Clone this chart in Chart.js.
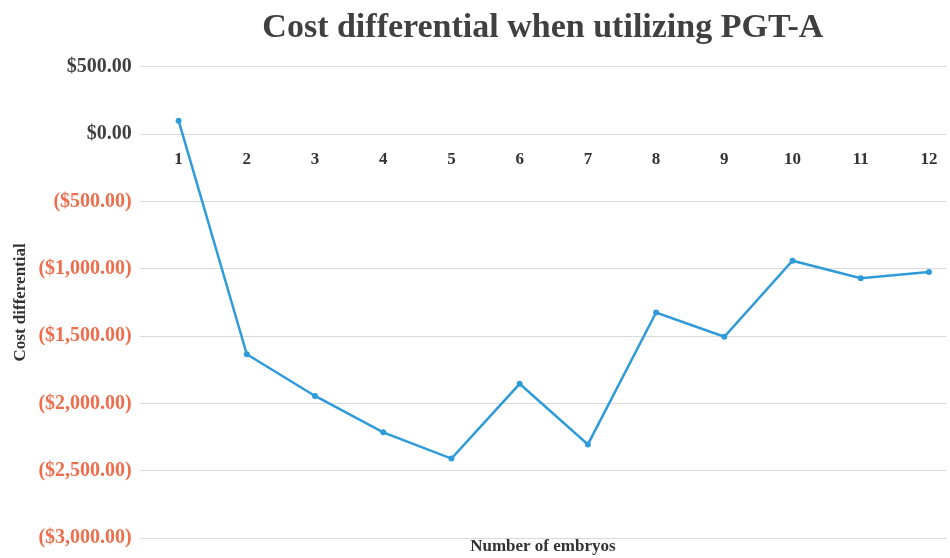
<!DOCTYPE html>
<html>
<head>
<meta charset="utf-8">
<script src="https://cdn.jsdelivr.net/npm/chart.js@4"></script>
<style>
  html, body { margin:0; padding:0; background:#fff; }
  #wrap { width:950px; height:558px; position:relative; }
</style>
</head>
<body>
<div id="wrap"><canvas id="chart"></canvas></div>
<script>
const embryos = [1, 2, 3, 4, 5, 6, 7, 8, 9, 10, 11, 12];
const costDiff = [100, -1635, -1945, -2215, -2410, -1855, -2305, -1325, -1505, -940, -1070, -1025];
const yTicks = [500, 0, -500, -1000, -1500, -2000, -2500, -3000];

const SERIF = "'Liberation Serif', 'Times New Roman', serif";
const LINE = "#2F9BD9";

function money(v){
  const s = "$" + Math.abs(v).toLocaleString("en-US", {minimumFractionDigits:2, maximumFractionDigits:2});
  return v < 0 ? `(${s})` : s;
}

const points = embryos.map((e,i) => ({x:e, y:costDiff[i]}));

new Chart(document.getElementById("chart").getContext("2d"), {
  type: "line",
  data: {
    datasets: [{
      label: "Cost differential",
      data: points,
      borderColor: LINE,
      backgroundColor: LINE,
      borderWidth: 2.5,
      pointRadius: 3,
      pointBorderWidth: 0,
      tension: 0,
      xAxisID: "x",
      yAxisID: "y"
    }]
  },
  options: {
    responsive: true,
    maintainAspectRatio: false,
    animation: false,
    layout: { padding: { left: 4, right: 0, top: 0, bottom: 0 } },
    plugins: {
      legend: { display: false },
      tooltip: { enabled: false },
      title: {
        display: true,
        fullSize: false,
        text: "Cost differential when utilizing PGT-A",
        color: "#404040",
        font: { family: SERIF, size: 34, weight: "bold" },
        padding: { top: 8, bottom: 18 }
      }
    },
    scales: {
      x: {
        type: "linear",
        position: { y: 0 },
        min: 0.43, max: 12.25,
        afterBuildTicks: s => { s.ticks = embryos.map(v => ({ value: v })); },
        grid: { display: false },
        border: { display: false },
        ticks: {
          color: "#333",
          padding: 7,
          font: { family: SERIF, size: 17, weight: "bold" },
          maxRotation: 0,
          callback: v => String(v)
        }
      },
      x2: {
        type: "linear",
        position: "bottom",
        display: true,
        grid: { display: false, drawTicks: false },
        border: { display: false },
        ticks: { display: false, padding: 0 },
        title: {
          display: true,
          text: "Number of embryos",
          color: "#333",
          font: { family: SERIF, size: 17, weight: "bold", lineHeight: 1.0 },
          padding: { top: 0, bottom: 0 }
        }
      },
      y: {
        type: "linear",
        min: -3000, max: 500,
        afterBuildTicks: s => { s.ticks = yTicks.map(v => ({ value: v })); },
        grid: { color: "#d9d9d9", lineWidth: 1, drawTicks: false },
        border: { display: false },
        ticks: {
          padding: 8,
          font: { family: SERIF, size: 20, weight: "bold" },
          color: c => (c.tick && c.tick.value < 0) ? "#ED6D4C" : "#404040",
          callback: v => money(v)
        },
        title: {
          display: true,
          text: "Cost differential",
          color: "#333",
          font: { family: SERIF, size: 17, weight: "bold" },
          padding: { top: 6, bottom: 0 }
        }
      }
    }
  }
});
</script>
</body>
</html>
